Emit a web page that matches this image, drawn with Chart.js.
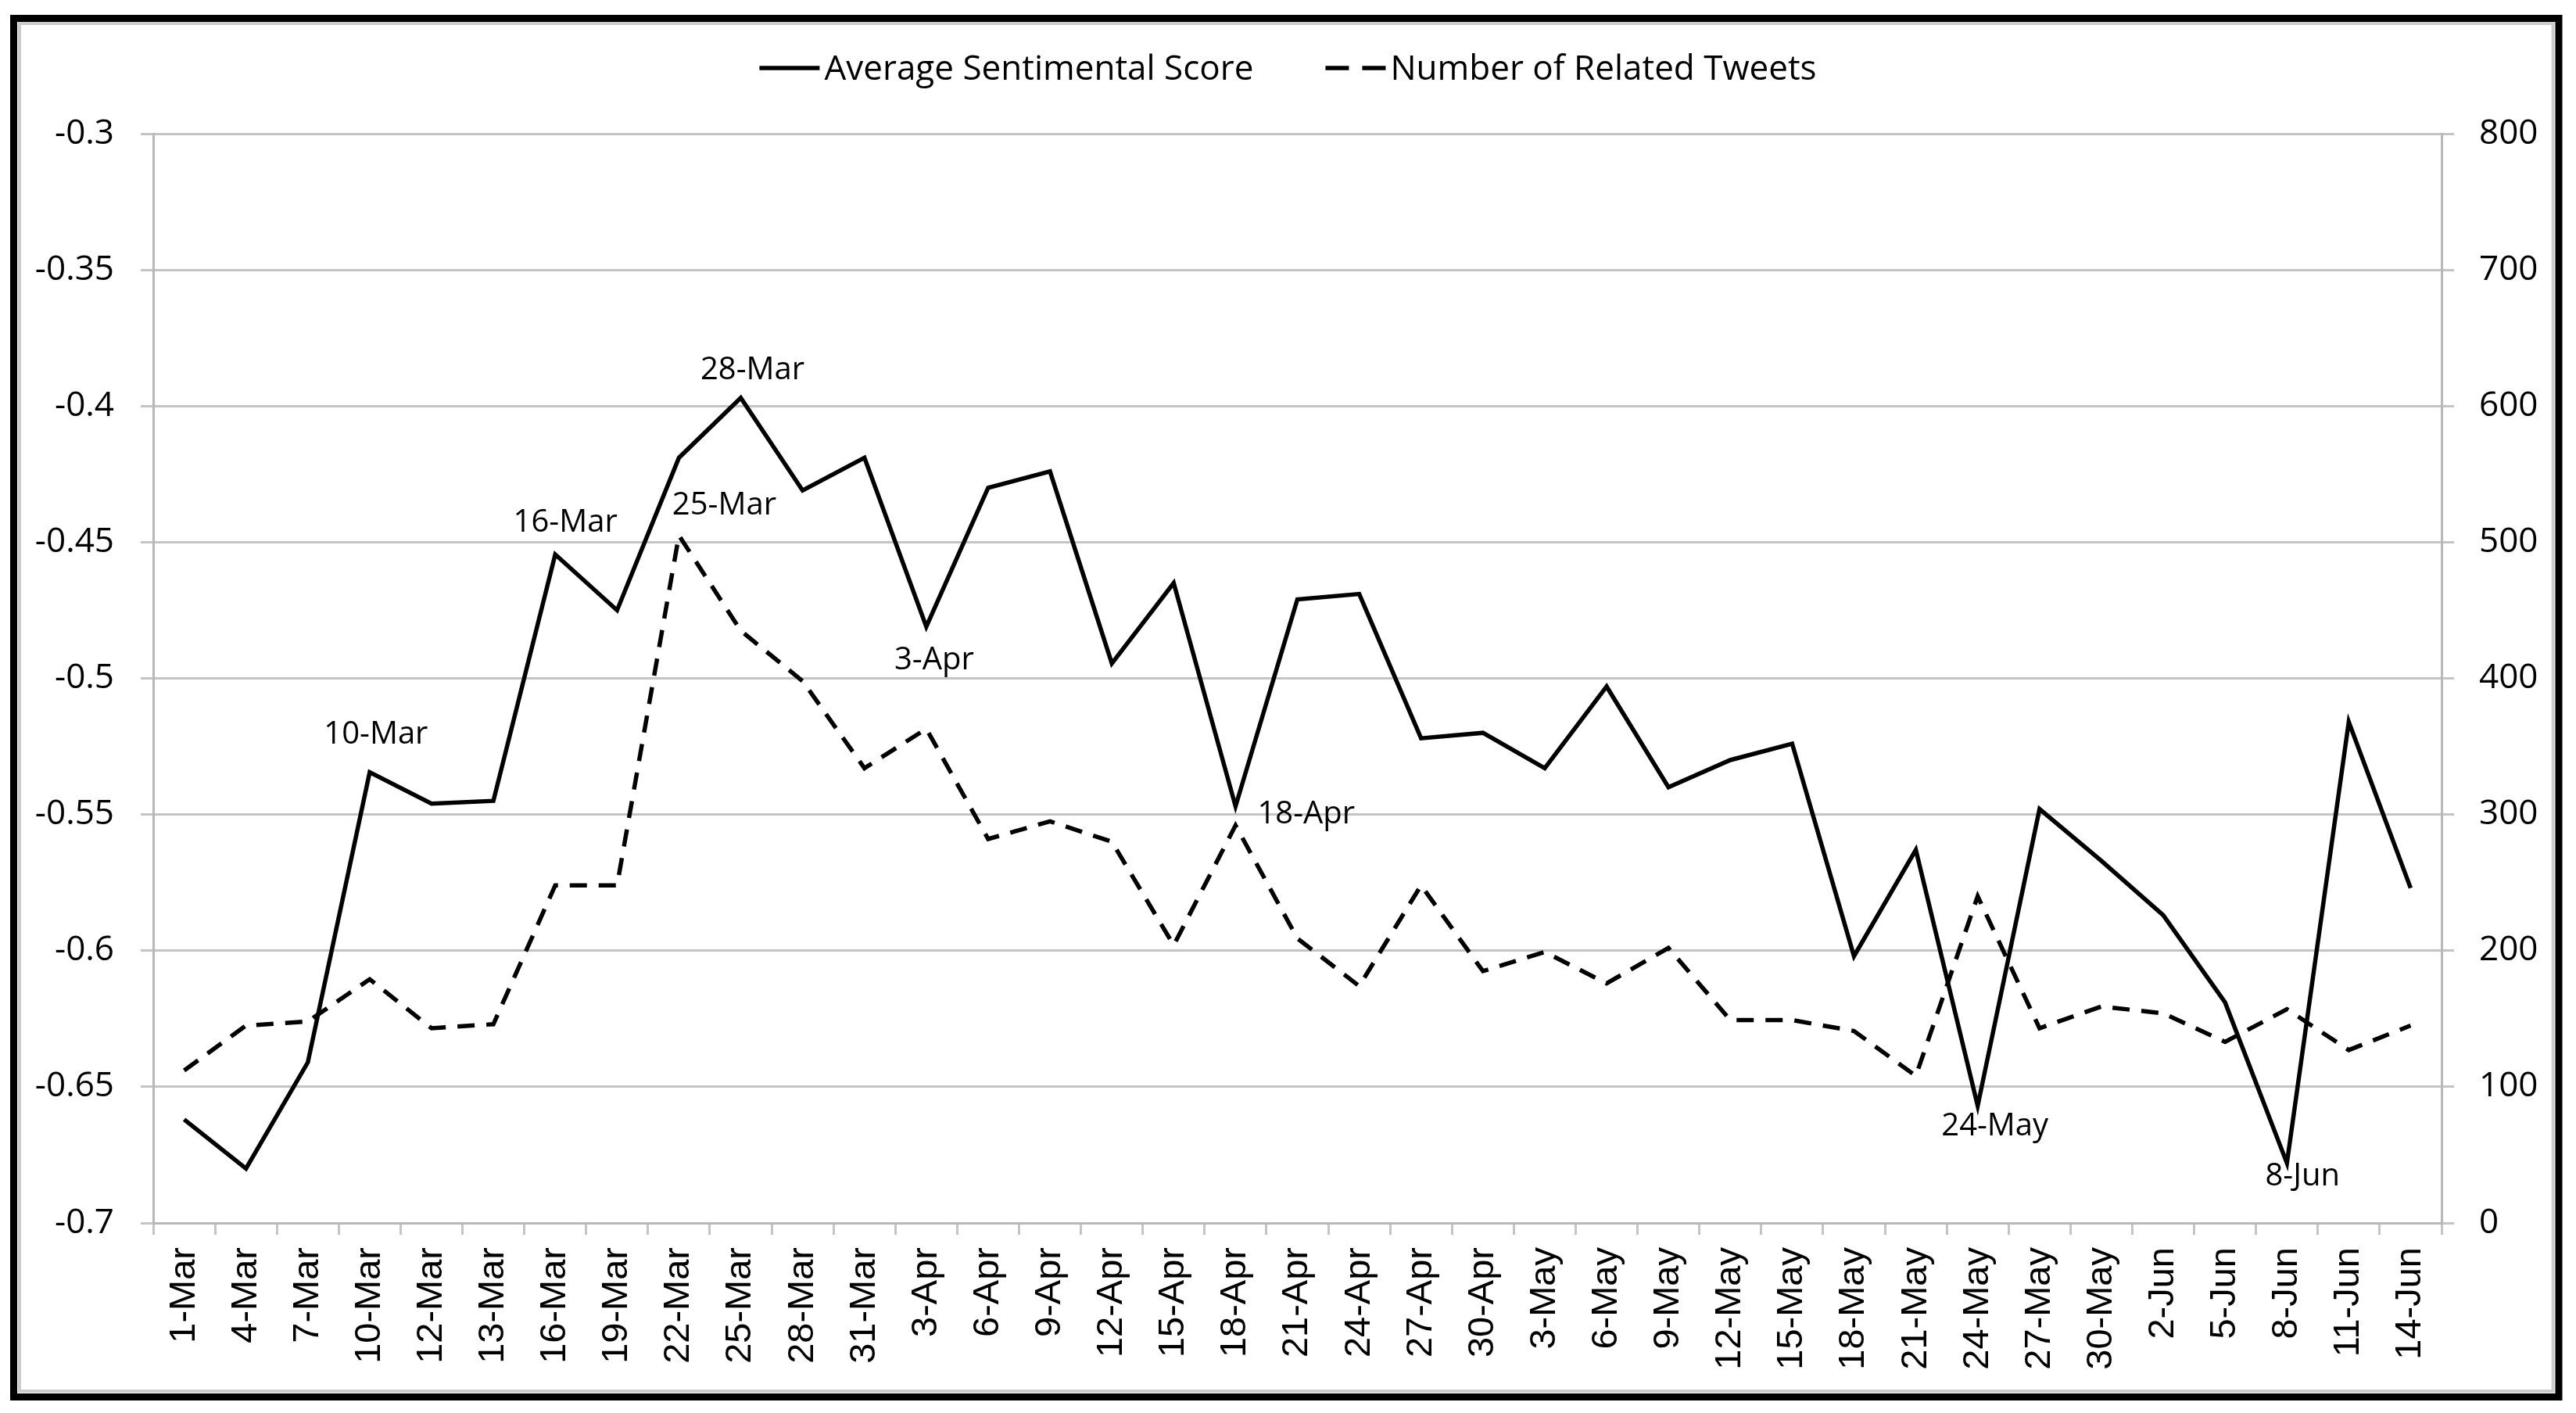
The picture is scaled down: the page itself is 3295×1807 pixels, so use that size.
<!DOCTYPE html>
<html>
<head>
<meta charset="utf-8">
<script src="https://cdn.jsdelivr.net/npm/chart.js@4.4.1/dist/chart.umd.min.js"></script>
<style>
  html, body { margin: 0; padding: 0; background: #fff; }
  canvas { display: block; }
</style>
</head>
<body>
<canvas id="chart" width="3295" height="1807"></canvas>
<script>
const dates = ['1-Mar', '4-Mar', '7-Mar', '10-Mar', '12-Mar', '13-Mar', '16-Mar', '19-Mar', '22-Mar', '25-Mar', '28-Mar', '31-Mar',
  '3-Apr', '6-Apr', '9-Apr', '12-Apr', '15-Apr', '18-Apr', '21-Apr', '24-Apr', '27-Apr', '30-Apr',
  '3-May', '6-May', '9-May', '12-May', '15-May', '18-May', '21-May', '24-May', '27-May', '30-May',
  '2-Jun', '5-Jun', '8-Jun', '11-Jun', '14-Jun'];
const sentiment = [-0.662, -0.680, -0.641, -0.5345, -0.546, -0.545, -0.4545, -0.475, -0.419, -0.397, -0.431, -0.419,
  -0.481, -0.430, -0.424, -0.4945, -0.465, -0.547, -0.471, -0.469, -0.522, -0.520,
  -0.533, -0.503, -0.540, -0.530, -0.524, -0.602, -0.563, -0.657, -0.548, -0.567,
  -0.587, -0.619, -0.678, -0.516, -0.577];
const tweets = [112, 145, 148, 179, 143, 146, 248, 248, 505, 435, 398, 334,
  363, 282, 295, 280, 204, 292, 209, 174, 248, 185,
  199, 176, 202, 149, 149, 141, 108, 240, 143, 159,
  154, 133, 157, 127, 145];
const seriesNames = ['Average Sentimental Score', 'Number of Related Tweets'];

// labelled points: [series, index, text]
const pointLabels = [
  [0, 3, '10-Mar'], [0, 6, '16-Mar'], [0, 9, '28-Mar'], [1, 8, '25-Mar'],
  [0, 12, '3-Apr'], [0, 17, '18-Apr'], [0, 29, '24-May'], [0, 34, '8-Jun']
];
// where each label sits relative to its point
const labelPlace = [
  {dx: 8, dy: -48}, {dx: 13, dy: -40}, {dx: 15, dy: -35}, {dx: 58, dy: -38},
  {dx: 10, dy: 43}, {dx: 28, dy: 10, align: 'left'}, {dx: 22, dy: 26}, {dx: 20, dy: 17}
];

const W = 3295, H = 1807;
const GRID = '#c4c4c4';
const AXIS = '#b8b8b8';

const decor = {
  id: 'decor',
  beforeDraw(chart) {
    const c = chart.ctx;
    c.save();
    c.fillStyle = '#fff';
    c.fillRect(0, 0, W, H);
    c.restore();
  },
  afterDraw(chart) {
    const c = chart.ctx;
    c.save();
    // frame
    c.strokeStyle = '#000';
    c.lineWidth = 9;
    c.strokeRect(17.5, 23.5, 3273 - 17.5, 1786.5 - 23.5);
    c.strokeStyle = '#cccccc';
    c.lineWidth = 4;
    c.strokeRect(25, 30, 3265.5 - 25, 1779 - 30);

    // point labels
    c.fillStyle = '#000';
    c.font = '40px "Open Sans"';
    c.textBaseline = 'middle';
    pointLabels.forEach(([ds, i, text], k) => {
      const pt = chart.getDatasetMeta(ds).data[i];
      const p = labelPlace[k];
      c.textAlign = p.align || 'center';
      c.fillText(text, pt.x + p.dx, pt.y + p.dy);
    });

    // legend
    c.font = '44px "Open Sans"';
    const sampleW = 77, gap = 6, itemGap = 92;
    const sets = chart.data.datasets;
    const widths = sets.map(d => c.measureText(d.label).width);
    const total = widths.reduce((a, w) => a + sampleW + gap + w, 0) + itemGap * (sets.length - 1);
    let x = (W - total) / 2;
    sets.forEach((d, k) => {
      c.beginPath();
      c.setLineDash(d.borderDash ? [30, 17] : []);
      c.lineWidth = d.borderWidth;
      c.strokeStyle = d.borderColor;
      c.moveTo(x, 87);
      c.lineTo(x + sampleW, 87);
      c.stroke();
      c.setLineDash([]);
      c.textAlign = 'left';
      c.textBaseline = 'alphabetic';
      c.fillText(d.label, x + sampleW + gap, 102);
      x += sampleW + gap + widths[k] + itemGap;
    });
    c.restore();
  }
};

new Chart(document.getElementById('chart'), {
  type: 'line',
  data: {
    labels: dates,
    datasets: [
      {
        label: seriesNames[0],
        data: sentiment,
        yAxisID: 'y',
        borderColor: '#000',
        borderWidth: 5.5,
        pointRadius: 0,
        tension: 0,
        fill: false
      },
      {
        label: seriesNames[1],
        data: tweets,
        yAxisID: 'y1',
        borderColor: '#000',
        borderWidth: 5.5,
        borderDash: [22, 15],
        pointRadius: 0,
        tension: 0,
        fill: false
      }
    ]
  },
  options: {
    responsive: false,
    animation: false,
    devicePixelRatio: 1,
    layout: { padding: { top: 171, left: 0, right: 0, bottom: 0 } },
    plugins: {
      legend: { display: false },
      tooltip: { enabled: false }
    },
    scales: {
      x: {
        offset: true,
        grid: { offset: true, drawOnChartArea: false, drawTicks: true, tickLength: 15, color: GRID, lineWidth: 3 },
        border: { color: AXIS, width: 3 },
        ticks: {
          autoSkip: false, minRotation: 90, maxRotation: 90, padding: 16, color: '#000',
          font: { family: 'Liberation Sans', size: 47 }
        },
        afterFit(s) { s.height = 243; }
      },
      y: {
        position: 'left',
        min: -0.7,
        max: -0.3,
        ticks: {
          stepSize: 0.05, padding: 34, color: '#000',
          font: { family: 'Open Sans', size: 44 },
          callback: v => String(+v.toFixed(2))
        },
        grid: { color: GRID, lineWidth: 3, tickLength: 16 },
        border: { color: AXIS, width: 3 },
        afterFit(s) { s.width = 196; }
      },
      y1: {
        position: 'right',
        min: 0,
        max: 800,
        ticks: {
          stepSize: 100, padding: 32, color: '#000',
          font: { family: 'Open Sans', size: 44 }
        },
        grid: { drawOnChartArea: false, color: GRID, lineWidth: 3, tickLength: 16 },
        border: { color: AXIS, width: 3 },
        afterFit(s) { s.width = 172; }
      }
    }
  },
  plugins: [decor]
});
</script>
</body>
</html>
